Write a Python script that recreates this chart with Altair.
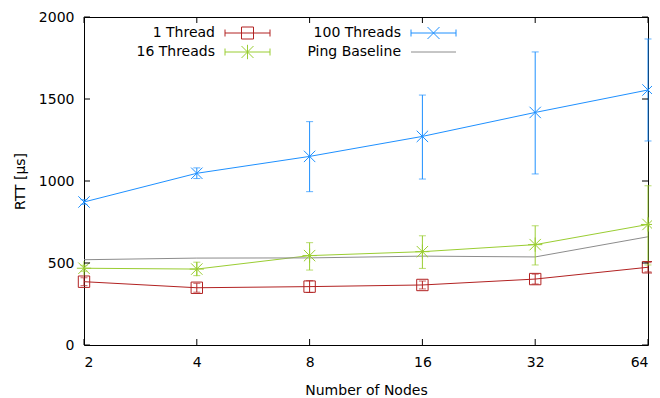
import altair as alt
import pandas as pd

# ---------------- data ----------------
nodes = [2, 4, 8, 16, 32, 64]
series_names = ["1 Thread", "16 Threads", "100 Threads", "Ping Baseline"]
colors = ["#b22222", "#9acd32", "#1e90ff", "#8c8c8c"]

t1_mean = [386, 349, 356, 366, 402, 474]
t1_low = [362, 322, 320, 342, 372, 446]
t1_high = [410, 376, 392, 390, 432, 502]

t16_mean = [468, 463, 545, 569, 612, 735]
t16_low = [450, 423, 457, 467, 488, 488]
t16_high = [486, 505, 624, 666, 727, 971]

t100_mean = [872, 1047, 1150, 1272, 1418, 1555]
t100_low = [858, 1015, 935, 1012, 1043, 1244]
t100_high = [886, 1080, 1362, 1524, 1787, 1866]

ping_mean = [520, 530, 531, 542, 537, 660]

x_ticks = nodes
y_ticks = [0, 500, 1000, 1500, 2000]

# marker shapes (plot) and legend samples
marker_paths = {
    "1 Thread": "M-1,-1H1V1H-1Z",
    "16 Threads": "M-1,-1L1,1M-1,1L1,-1M0,-1.25V1.25M-1.25,0H1.25",
    "100 Threads": "M-1,-1L1,1M-1,1L1,-1",
}
bar_sample = "M-24,0M4.25,0H15.5M4.25,-0.875V0.875M15.5,-0.875V0.875"
legend_paths = [
    bar_sample + "M8.375,-1.5H11.375V1.5H8.375Z",
    bar_sample + "M8.375,-1.5L11.375,1.5M8.375,1.5L11.375,-1.5M9.875,-1.8V1.8",
    bar_sample + "M8.375,-1.5L11.375,1.5M8.375,1.5L11.375,-1.5",
    "M-24,0M4.25,0H15.5",
]

rows = []
for name, m_, lo, hi in [
    ("1 Thread", t1_mean, t1_low, t1_high),
    ("16 Threads", t16_mean, t16_low, t16_high),
    ("100 Threads", t100_mean, t100_low, t100_high),
]:
    for n, a, b, c in zip(nodes, m_, lo, hi):
        rows.append({"series": name, "nodes": n, "rtt": a, "low": b, "high": c})
for n, a in zip(nodes, ping_mean):
    rows.append({"series": "Ping Baseline", "nodes": n, "rtt": a, "low": None, "high": None})
df = pd.DataFrame(rows)
df_err = df[df["series"] != "Ping Baseline"]

W, H = 564, 328
FONT = "DejaVu Sans"

xscale = alt.Scale(type="log", base=2, domain=[2, 64], nice=False)
yscale = alt.Scale(domain=[0, 2000], nice=False)
cscale = alt.Scale(domain=series_names, range=colors)
# same mapping, listed in another order (keeps these scales apart from the legend's)
stroke_scale = alt.Scale(domain=series_names[::-1], range=colors[::-1])
fill_scale = alt.Scale(domain=series_names[:3], range=colors[:3])
lscale = alt.Scale(domain=series_names, range=legend_paths)

xaxis = alt.Axis(values=x_ticks, format="d", title="Number of Nodes", ticks=False,
                 domain=False, grid=False, labelPadding=10, titlePadding=14)
yaxis = alt.Axis(values=y_ticks, format="d", title="RTT [µs]", ticks=False, domain=False,
                 grid=False, labelPadding=10, titlePadding=11)


def X(field):
    return alt.X(field, scale=xscale, axis=xaxis, title="Number of Nodes")


def Y(field):
    return alt.Y(field, scale=yscale, axis=yaxis, title="RTT [µs]")


def S(field="series:N"):
    return alt.Stroke(field, scale=stroke_scale, legend=None)


legend = alt.Legend(
    title=None,
    orient="none",
    legendX=117,
    legendY=9,
    columns=2,
    columnPadding=24,
    rowPadding=1,
    padding=0,
    labelFont=FONT,
    labelFontSize=14,
    labelColor="black",
    labelAlign="right",
    labelOffset=0,
    labelLimit=300,
    symbolOffset=0,
    symbolSize=64,
    symbolStrokeWidth=1,
    symbolOpacity=1,
)

base = alt.Chart(df)

lines = base.mark_line(strokeWidth=1).encode(x=X("nodes:Q"), y=Y("rtt:Q"), stroke=S())

# empty layer that only carries the legend
legend_layer = base.transform_filter("false").mark_point(
    filled=False, opacity=1, strokeWidth=1, size=64
).encode(
    x=X("nodes:Q"), y=Y("rtt:Q"),
    color=alt.Color("series:N", scale=cscale, legend=legend),
    shape=alt.Shape("series:N", scale=lscale, legend=legend),
)

err = alt.Chart(df_err).mark_rule(strokeWidth=1).encode(
    x=X("nodes:Q"), y=Y("low:Q"), y2="high:Q", stroke=S()
)

caps = []
for fld in ["low:Q", "high:Q"]:
    caps.append(
        alt.Chart(df_err).mark_tick(orient="horizontal", size=7, thickness=1).encode(
            x=X("nodes:Q"), y=Y(fld), fill=alt.Fill("series:N", scale=fill_scale, legend=None)
        )
    )

point_layers = []
for name, path in marker_paths.items():
    point_layers.append(
        alt.Chart(df_err).transform_filter(alt.datum.series == name)
        .mark_point(filled=False, size=130, strokeWidth=1, opacity=1, shape=path)
        .encode(x=X("nodes:Q"), y=Y("rtt:Q"), stroke=S())
    )

xt = alt.Chart(pd.DataFrame({"t": x_ticks}))
yt = alt.Chart(pd.DataFrame({"t": y_ticks}))
tick_style = dict(color="black", strokeWidth=1)
xt_bottom = xt.mark_rule(**tick_style).encode(x=X("t:Q"), y=alt.value(H), y2=alt.value(H - 6))
xt_top = xt.mark_rule(**tick_style).encode(x=X("t:Q"), y=alt.value(0), y2=alt.value(6))
yt_left = yt.mark_rule(**tick_style).encode(y=Y("t:Q"), x=alt.value(0), x2=alt.value(6))
yt_right = yt.mark_rule(**tick_style).encode(y=Y("t:Q"), x=alt.value(W), x2=alt.value(W - 6))

chart = (
    alt.layer(lines, err, *caps, *point_layers, legend_layer,
              xt_bottom, xt_top, yt_left, yt_right)
    .properties(
        width=W,
        height=H,
        autosize=alt.AutoSizeParams(type="none"),
        padding={"left": 76, "top": 9, "right": 4, "bottom": 53},
        background="white",
    )
    .configure_view(stroke="black", strokeWidth=1)
    .configure_axis(
        labelFont=FONT,
        titleFont=FONT,
        labelFontSize=14,
        titleFontSize=14,
        labelColor="black",
        titleColor="black",
        titleFontWeight="normal",
    )
)

chart.save("out.html", embed_options={"renderer": "svg", "actions": False})
